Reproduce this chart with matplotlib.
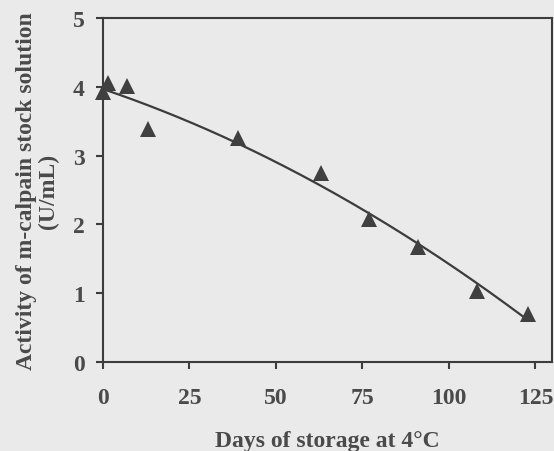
import numpy as np
import matplotlib
matplotlib.use("Agg")
import matplotlib.pyplot as plt

# data
days = [0, 1.5, 7, 13, 39, 63, 77, 91, 108, 123]
activity = [3.92, 4.05, 4.01, 3.39, 3.26, 2.74, 2.08, 1.67, 1.03, 0.70]
xticks = [0, 25, 50, 75, 100, 125]
yticks = [0, 1, 2, 3, 4, 5]

bg = "#eaeaea"
ink = "#3c3c3c"
txt = "#4a4a4a"

plt.rcParams["font.family"] = ["Liberation Serif", "DejaVu Serif"]
plt.rcParams["font.weight"] = "bold"

fig = plt.figure(figsize=(5.54, 4.52), dpi=100, facecolor=bg)
ax = fig.add_axes([103 / 554, 1 - 363 / 452, (552 - 103) / 554, (363 - 19) / 452])
ax.set_facecolor(bg)

# quadratic fit through the points
coef = np.polyfit(days, activity, 2)
xs = np.linspace(0, max(days), 200)
ax.plot(xs, np.polyval(coef, xs), color=ink, lw=1.6, zorder=2)
ax.plot(days, activity, linestyle="none", marker="^", ms=11, color="#404040",
        markeredgewidth=0, zorder=3, clip_on=False)

ax.set_xlim(0, 129.8)
ax.set_ylim(0, 5)
ax.set_xticks(xticks)
ax.set_yticks(yticks)
for s in ax.spines.values():
    s.set_color(ink)
    s.set_linewidth(1.5)
ax.tick_params(direction="out", length=5, width=1.5, color=ink, labelsize=17,
               labelcolor=txt, pad=8)
ax.tick_params(axis="x", pad=13)

ax.set_xlabel("Days of storage at 4°C", fontsize=17, fontweight="bold", color=txt,
              labelpad=16)
ax.set_ylabel("Activity of m-calpain stock solution\n(U/mL)", fontsize=17,
              fontweight="bold", color=txt, labelpad=10, linespacing=1.05)

fig.savefig("out.png", dpi=100, facecolor=bg)
